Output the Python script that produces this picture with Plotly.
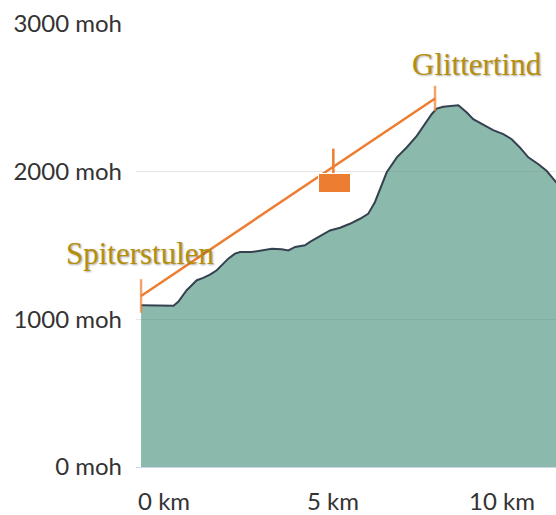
import plotly.graph_objects as go

# Elevation profile (distance in km, elevation in m)
distance_km = [0.0, 0.96, 1.10, 1.35, 1.50, 1.65, 1.84, 2.04, 2.24, 2.39, 2.58, 2.78, 2.93,
               3.28, 3.57, 3.87, 4.16, 4.36, 4.56, 4.85, 5.00, 5.30, 5.59, 5.89, 6.18, 6.48,
               6.72, 6.92, 7.07, 7.27, 7.57, 7.86, 8.16, 8.40, 8.60, 8.75, 8.94, 9.39, 9.64,
               9.83, 10.13, 10.42, 10.72, 10.97, 11.21, 11.46, 11.75, 12.00, 12.20, 12.30]
elevation_m = [1096, 1092, 1119, 1197, 1231, 1265, 1281, 1303, 1332, 1366, 1411, 1445, 1456,
               1456, 1467, 1478, 1474, 1467, 1490, 1501, 1524, 1564, 1602, 1620, 1647, 1681,
               1714, 1793, 1883, 1996, 2097, 2164, 2242, 2321, 2389, 2427, 2440, 2449, 2400,
               2355, 2317, 2281, 2254, 2220, 2164, 2097, 2052, 2006, 1951, 1925]

# Measure annotation (orange line between start and summit)
measure_x = [0.0, 8.70]
measure_y = [1158, 2496]
measure_tick_size = [24, 18]
mid_tick_x = [5.69]
mid_tick_y = [2066]
label_box_x = 5.71
label_box_y = 1925

# Place labels
place_names = ["Spiterstulen", "Glittertind"]
place_x = [-0.03, 9.94]
place_y = [1445, 2726]

# Axis ticks
y_tickvals = [0, 1000, 2000, 3000]
y_ticktext = ["0 moh", "1000 moh", "2000 moh", "3000 moh"]
x_tickvals = [0, 5, 10]
x_ticktext = ["0 km", "5 km", "10 km"]

ORANGE = "#ED7D31"
GOLD = "#B58F0C"

fig = go.Figure()
fig.add_trace(go.Scatter(
    x=distance_km, y=elevation_m, mode="lines", fill="tozeroy",
    fillcolor="rgba(77,149,129,0.65)",
    line=dict(color="#35414f", width=2),
    hoverinfo="skip", showlegend=False,
))
fig.add_trace(go.Scatter(
    x=measure_x, y=measure_y, mode="lines+markers",
    line=dict(color=ORANGE, width=2.5),
    marker=dict(symbol="line-ns", size=measure_tick_size, color=ORANGE,
                line=dict(color=ORANGE, width=2.5)),
    hoverinfo="skip", showlegend=False, cliponaxis=False,
))
fig.add_trace(go.Scatter(
    x=mid_tick_x, y=mid_tick_y, mode="markers",
    marker=dict(symbol="line-ns", size=19, color=ORANGE,
                line=dict(color=ORANGE, width=2.5)),
    hoverinfo="skip", showlegend=False,
))

fig.add_annotation(x=label_box_x, y=label_box_y, text=" ", showarrow=False,
                   width=31, height=18, bgcolor=ORANGE, bordercolor="white",
                   borderwidth=1, borderpad=0, font=dict(size=10))

for name, px, py in zip(place_names, place_x, place_y):
    fig.add_annotation(x=px, y=py, text=name, showarrow=False,
                       xanchor="center", yanchor="middle",
                       font=dict(family="Liberation Serif", size=31, color=GOLD,
                                 shadow="1px 1px 2px rgba(0,0,0,0.35)"))

fig.update_layout(
    width=556, height=515,
    margin=dict(l=136, r=0, t=24, b=46),
    paper_bgcolor="white", plot_bgcolor="white",
    font=dict(family="Lato", size=24, color="#333333"),
    xaxis=dict(range=[-0.15, 12.28], tickvals=x_tickvals, ticktext=x_ticktext,
               showgrid=False, zeroline=False, showline=True, linecolor="#ccd6eb",
               linewidth=1, ticks="", ticklabelshift=23, ticklabelstandoff=13,
               fixedrange=True),
    yaxis=dict(range=[0, 3000], tickvals=y_tickvals, ticktext=y_ticktext,
               showgrid=True, gridcolor="#e6e6e6", gridwidth=1, zeroline=False,
               showline=False, ticks="", ticklabelstandoff=13, fixedrange=True),
)

fig.write_html(
    "out.html",
    config={"displayModeBar": False},
    post_script="document.body.style.margin='0px';document.body.style.overflow='hidden';",
)
